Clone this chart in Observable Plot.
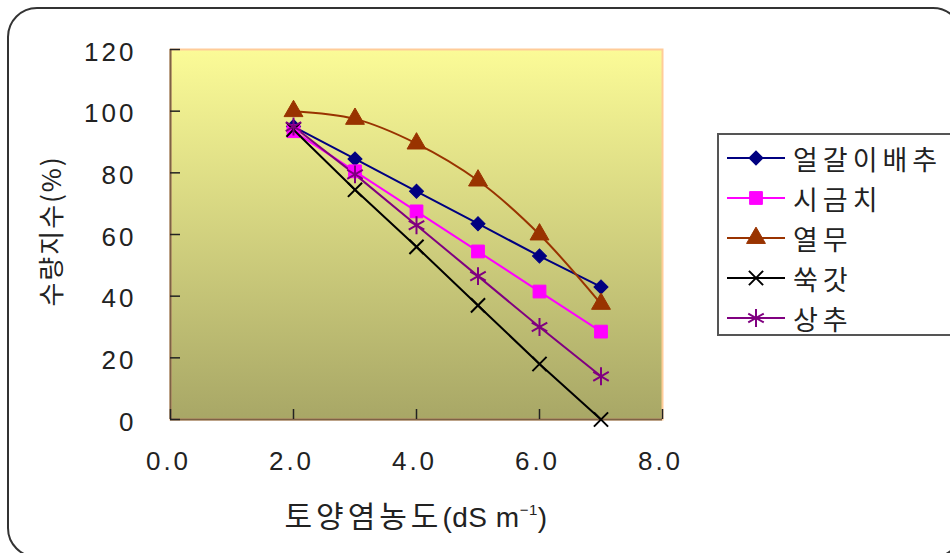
<!DOCTYPE html>
<html>
<head>
<meta charset="utf-8">
<script src="https://cdn.jsdelivr.net/npm/d3@7"></script>
<script src="https://cdn.jsdelivr.net/npm/@observablehq/plot@0.6"></script>
<style>
  body { margin: 0; background: #fff; }
  #wrap { position: relative; width: 950px; height: 553px; overflow: hidden; background: #fff;
          font-family: "Liberation Sans", "Noto Sans CJK KR", sans-serif; color: #222; }
  #border { position: absolute; left: 7px; top: 7px; width: 956px; height: 551px;
            border: 2px solid #333; border-radius: 30px; box-sizing: border-box; pointer-events: none; }
  #chart { position: absolute; left: 0; top: 0; }
  #ytitle { position: absolute; left: 49px; top: 231px; transform: translate(-50%, -50%) rotate(-90deg);
            white-space: nowrap; font-size: 26px; letter-spacing: 2px; font-family: "Noto Sans CJK KR", sans-serif; }
  #xtitle { position: absolute; left: 416px; top: 514px; transform: translate(-50%, -50%);
            white-space: nowrap; font-size: 30px; letter-spacing: 4px; font-family: "Noto Sans CJK KR", sans-serif; }
  #xtitle .lat { font-family: "Liberation Sans", sans-serif; font-size: 28px; letter-spacing: 0.5px; }
  #xtitle sup { font-size: 15px; vertical-align: 12px; }
  #legend { position: absolute; left: 717px; top: 133px; width: 260px; height: 203px;
            border: 2px solid #555; box-sizing: border-box; background: #fff; }
  .row { position: absolute; left: 8px; height: 40px; display: flex; align-items: center; }
  .row span { font-family: "Noto Sans CJK KR", sans-serif; font-size: 27px; letter-spacing: 5px; margin-left: 8px; line-height: 1; }
</style>
</head>
<body>
<div id="wrap">
  <div id="chart"></div>
  <div id="ytitle">수량지수(%)</div>
  <div id="xtitle">토양염농도<span class="lat">(dS m<sup>−1</sup>)</span></div>
  <div id="legend"></div>
  <div id="border"></div>
</div>
<script>
// ---- data ----
const salinity = [2, 3, 4, 5, 6, 7];
const seriesNames = ["얼갈이배추", "시금치", "열무", "쑥갓", "상추"];
const yeolgalibaechu = [95, 84.5, 74, 63.5, 53, 43];
const sigeumchi = [93.5, 80.5, 67.5, 54.5, 41.5, 28.5];
const yeolmu = [100, 97.5, 89.5, 77.5, 60, 37.5];
const ssukgat = [94, 74.5, 56, 37, 18, 0];
const sangchu = [95, 79.5, 63, 46.5, 30, 14];
const xTicks = [0, 2, 4, 6, 8];
const yTicks = [0, 20, 40, 60, 80, 100, 120];

// ---- styles ----
const seriesValues = [yeolgalibaechu, sigeumchi, yeolmu, ssukgat, sangchu];
const colors = ["#000080", "#ff00ff", "#993300", "#000000", "#800080"];
const symbols = ["square", "square", "triangle", "times", "asterisk"];
const rotations = [45, 0, 0, 0, 0];
const filled = [true, true, true, false, false];
const radii = [5.6, 7.2, 7, 6.5, 8.5];
const curves = ["linear", "linear", "catmull-rom", "linear", "linear"];

const W = 950, H = 553, mL = 170, mR = 288, mT = 49, mB = 134;
const innerW = W - mL - mR, innerH = H - mT - mB;

const table = [];
seriesNames.forEach((name, i) => {
  salinity.forEach((x, j) => table.push({name, x, y: seriesValues[i][j]}));
});

function defsMark() {
  const g = d3.create("svg:g");
  const grad = g.append("defs").append("linearGradient")
    .attr("id", "bgGrad").attr("x1", 0).attr("y1", 0).attr("x2", 0).attr("y2", 1);
  grad.append("stop").attr("offset", "0%").attr("stop-color", "#fbfb97");
  grad.append("stop").attr("offset", "100%").attr("stop-color", "#a8a766");
  return g.node();
}

const marks = [
  defsMark,
  Plot.frame({fill: "url(#bgGrad)", stroke: "#ffcc99", strokeWidth: 2}),
  Plot.ruleX([0], {stroke: "#7d6245", strokeWidth: 2}),
  Plot.ruleY([0], {stroke: "#7d6245", strokeWidth: 2}),
  Plot.tickY(yTicks, {y: d => d, stroke: "#222", strokeWidth: 1.5, insetRight: innerW - 10}),
  Plot.tickX(xTicks, {x: d => d, stroke: "#222", strokeWidth: 1.5, insetTop: innerH - 10}),
  Plot.axisY(yTicks, {tickSize: 0, tickPadding: 34, fontSize: 26, fill: "#222", label: null,
                      fontFamily: "Liberation Sans", dy: 3}),
  Plot.axisX(xTicks, {tickSize: 0, tickPadding: 32, fontSize: 26, fill: "#222", label: null,
                      fontFamily: "Liberation Sans", dx: -2, tickFormat: d3.format(".1f")})
];

seriesNames.forEach((name, i) => {
  const d = table.filter(r => r.name === name);
  marks.push(Plot.line(d, {x: "x", y: "y", stroke: colors[i], strokeWidth: 2, curve: curves[i]}));
});
seriesNames.forEach((name, i) => {
  const d = table.filter(r => r.name === name);
  marks.push(Plot.dot(d, {
    x: "x", y: "y", symbol: () => symbols[i], r: radii[i], rotate: rotations[i],
    fill: filled[i] ? colors[i] : "none",
    stroke: colors[i], strokeWidth: filled[i] ? 1 : 2
  }));
});

const chart = Plot.plot({
  width: W, height: H,
  marginLeft: mL, marginRight: mR, marginTop: mT, marginBottom: mB,
  x: {domain: [0, 8]},
  y: {domain: [0, 120]},
  symbol: {type: "identity"},
  style: {background: "transparent", overflow: "visible", letterSpacing: "3px"},
  marks
});
document.getElementById("chart").appendChild(chart);

// ---- legend ----
const legend = d3.select("#legend");
const symTypes = {square: d3.symbolSquare, triangle: d3.symbolTriangle,
                  times: d3.symbolTimes, asterisk: d3.symbolAsterisk};
seriesNames.forEach((name, i) => {
  const row = legend.append("div").attr("class", "row").style("top", (3 + i * 40) + "px");
  const s = row.append("svg").attr("width", 58).attr("height", 22);
  s.append("line").attr("x1", 0).attr("x2", 58).attr("y1", 11).attr("y2", 11)
    .attr("stroke", colors[i]).attr("stroke-width", 2);
  s.append("path").attr("transform", `translate(29,11) rotate(${rotations[i]})`)
    .attr("d", d3.symbol(symTypes[symbols[i]], Math.PI * radii[i] * radii[i])())
    .attr("fill", filled[i] ? colors[i] : "none")
    .attr("stroke", colors[i]).attr("stroke-width", filled[i] ? 1 : 2);
  row.append("span").text(name);
});
</script>
</body>
</html>
